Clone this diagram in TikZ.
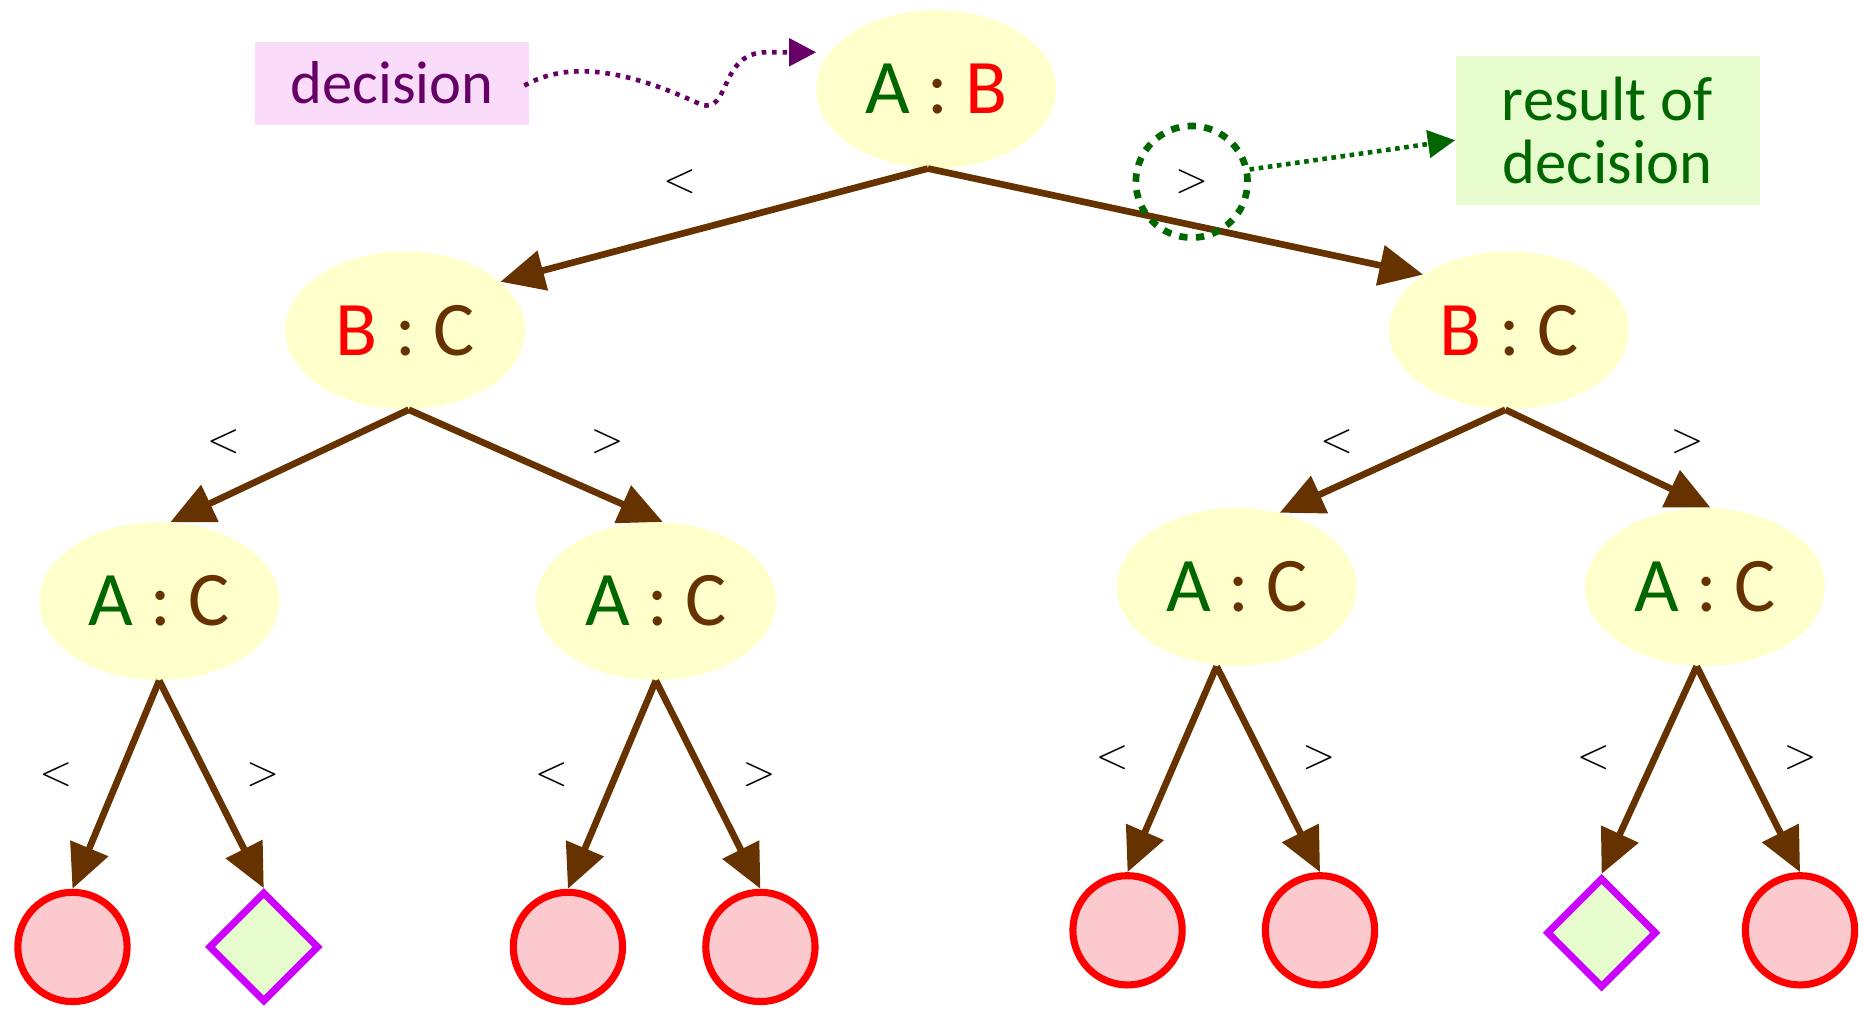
\documentclass[tikz,border=0pt]{standalone}
\usepackage{fontspec}
\setmainfont{Carlito}
\usetikzlibrary{shapes.geometric,arrows.meta}
\definecolor{brn}{HTML}{663300}
\definecolor{dgreen}{HTML}{006600}
\definecolor{purp}{HTML}{660066}
\definecolor{ylw}{HTML}{FFFFCC}
\definecolor{pinkf}{HTML}{FCCACE}
\definecolor{grnf}{HTML}{E6FCCC}
\definecolor{pinkbox}{HTML}{FADCFA}
\definecolor{viol}{HTML}{CC00FF}
\begin{document}
\begin{tikzpicture}[x=0.02cm,y=-0.02cm,
 cmp/.style={ellipse, fill=ylw, minimum width=4.04cm, minimum height=2.66cm, inner sep=0pt, font=\fontsize{37}{42}\selectfont},
 leafc/.style={circle, draw=red, fill=pinkf, line width=3.4pt, minimum size=1.84cm, inner sep=0pt},
 leafd/.style={diamond, draw=viol, fill=grnf, line width=3.4pt, minimum width=1.86cm, minimum height=1.86cm, inner sep=0pt},
 edgearr/.style={draw=brn, line width=3.2pt, -{Triangle[length=21pt,width=19pt]}},
 rel/.style={font=\fontsize{22}{26}\selectfont, inner sep=0pt},
]
\useasboundingbox (0,0) rectangle (1568,849.2);
\newcommand{\Ac}{\textcolor{dgreen}{A}}
\newcommand{\Bc}{\textcolor{red}{B}}
\newcommand{\Cc}{\textcolor{brn}{C}}
\newcommand{\Col}{\textcolor{brn}{:}}
% comparison nodes
\node[cmp] (r) at (788,75) {\Ac\ \Col\ \Bc};
\node[cmp] (bl) at (341,278) {\Bc\ \Col\ \Cc};
\node[cmp] (br) at (1270,278) {\Bc\ \Col\ \Cc};
\node[cmp] (a1) at (134,506) {\Ac\ \Col\ \Cc};
\node[cmp] (a2) at (552,506) {\Ac\ \Col\ \Cc};
\node[cmp] (a3) at (1041,494) {\Ac\ \Col\ \Cc};
\node[cmp] (a4) at (1435,494) {\Ac\ \Col\ \Cc};
% leaves
\node[leafc] (l1) at (61,797) {};
\node[leafd] (l2) at (222,797) {};
\node[leafc] (l3) at (478,797) {};
\node[leafc] (l4) at (640,797) {};
\node[leafc] (l5) at (949,783) {};
\node[leafc] (l6) at (1111,783) {};
\node[leafd] (l7) at (1348,785) {};
\node[leafc] (l8) at (1515,783) {};
% edges
\draw[edgearr] ([xshift=-0.14cm]r.south) -- (bl.27);
\draw[edgearr] ([xshift=-0.14cm]r.south) -- (br.147);
\draw[edgearr] ([xshift=0.06cm]bl.south) -- (a1.82);
\draw[edgearr] ([xshift=0.06cm]bl.south) -- (a2.85);
\draw[edgearr] ([xshift=-0.06cm]br.south) -- (a3.60);
\draw[edgearr] ([xshift=-0.06cm]br.south) -- (a4.86);
\draw[edgearr] (a1.south) -- (l1.north);
\draw[edgearr] (a1.south) -- (l2.north);
\draw[edgearr] (a2.south) -- (l3.north);
\draw[edgearr] (a2.south) -- (l4.north);
\draw[edgearr] ([xshift=-0.34cm]a3.south) -- (l5.north);
\draw[edgearr] ([xshift=-0.34cm]a3.south) -- (l6.north);
\draw[edgearr] ([xshift=-0.14cm]a4.south) -- (l7.north);
\draw[edgearr] ([xshift=-0.14cm]a4.south) -- (l8.north);
% relation labels
\node[rel] (t1) at (572,153) {$<$};
\node[rel] (t2) at (1003,153) {$>$};
\node[rel] (t3) at (188,372) {$<$};
\node[rel] (t4) at (511,372) {$>$};
\node[rel] (t5) at (1125,372) {$<$};
\node[rel] (t6) at (1420,372) {$>$};
\node[rel] (t7) at (47,652) {$<$};
\node[rel] (t8) at (221,652) {$>$};
\node[rel] (t9) at (464,652) {$<$};
\node[rel] (t10) at (639,652) {$>$};
\node[rel] (t11) at (936,638) {$<$};
\node[rel] (t12) at (1110,638) {$>$};
\node[rel] (t13) at (1341,638) {$<$};
\node[rel] (t14) at (1515,638) {$>$};
% annotations
\node[fill=pinkbox, minimum width=4.6cm, minimum height=1.4cm, inner sep=0pt, font=\fontsize{29}{34}\selectfont, text=purp] (dec) at (330,70) {decision};
\node[fill=grnf, minimum width=5.12cm, minimum height=2.5cm, inner sep=0pt, align=center, font=\fontsize{30}{30}\selectfont, text=dgreen] (res) at (1353,110) {result of\\decision};
\node[circle, draw=dgreen, line width=3.2pt, dash pattern=on 4pt off 4pt, minimum size=1.88cm, inner sep=0pt] (gc) at (1003,153) {};
\draw[purp, line width=2.2pt, dash pattern=on 2.2pt off 2.8pt, -{Triangle[length=13pt,width=13pt]}]
  ([xshift=-0.08cm,yshift=-0.04cm]dec.east) .. controls (480,50) and (530,60) .. (590,88)
  .. controls (615,96) and (605,44) .. (645,44) -- ([shift={(-101,-31)}]r.center);
\draw[dgreen, line width=2.2pt, dash pattern=on 2.2pt off 2.2pt, -{Triangle[length=13pt,width=13pt]}]
  (gc.12) -- ([yshift=-0.16cm]res.west);
\end{tikzpicture}
\end{document}
